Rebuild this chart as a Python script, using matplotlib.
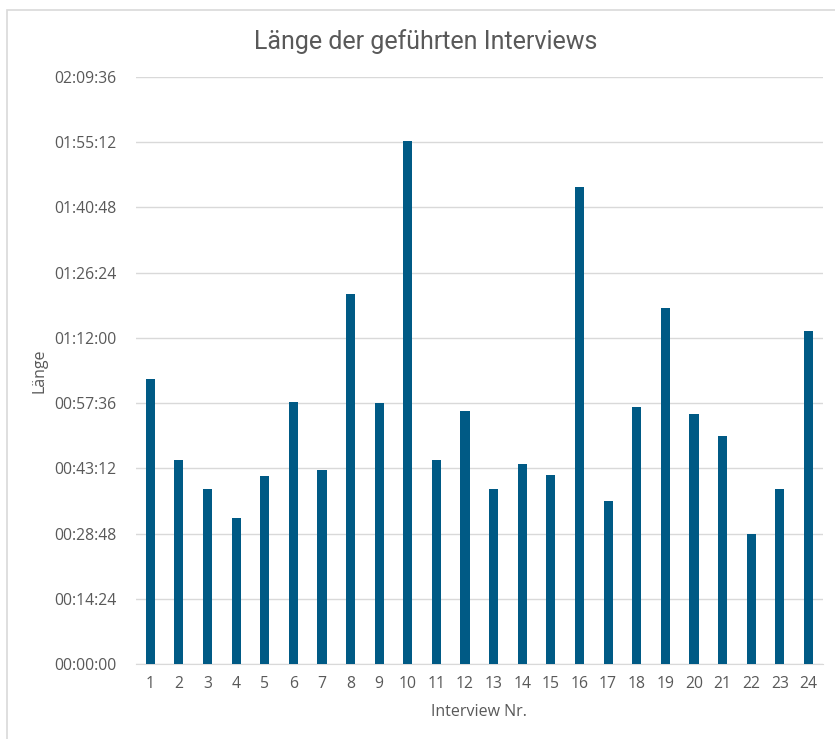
import matplotlib
matplotlib.use("Agg")
import matplotlib.pyplot as plt
from matplotlib.ticker import FuncFormatter, MultipleLocator
from matplotlib.patches import Rectangle

# ===== Daten =====
interview_nr = list(range(1, 25))
dauer = [
    "1:02:51", "0:45:07", "0:38:33", "0:32:16", "0:41:25", "0:57:49",
    "0:42:45", "1:21:44", "0:57:36", "1:55:28", "0:45:07", "0:55:58",
    "0:38:33", "0:44:14", "0:41:38", "1:45:17", "0:36:02", "0:56:51",
    "1:18:42", "0:55:18", "0:50:26", "0:28:43", "0:38:41", "1:13:32",
]
titel = "Länge der geführten Interviews"
x_label = "Interview Nr."
y_label = "Länge"


def in_sekunden(t):
    h, m, s = (int(v) for v in t.split(":"))
    return h * 3600 + m * 60 + s


def hms(x, pos=None):
    x = int(round(x))
    return f"{x // 3600:02d}:{(x % 3600) // 60:02d}:{x % 60:02d}"


sekunden = [in_sekunden(t) for t in dauer]

GRAU = "#595959"
BALKEN = "#005a85"
plt.rcParams["font.family"] = ["Open Sans", "DejaVu Sans"]

fig = plt.figure(figsize=(8.35, 7.39), dpi=100)

# heller Rahmen um das Diagramm
fig.patches.append(Rectangle((7 / 835, -0.05), 1.0, 1 - 10 / 739 + 0.05,
                             transform=fig.transFigure, fill=False,
                             edgecolor="#d9d9d9", linewidth=1.2))

ax = fig.add_axes([136 / 835, 75 / 739, 686.7 / 835, 587 / 739])
ax.bar(interview_nr, sekunden, width=0.32, color=BALKEN, zorder=3)

ax.set_xlim(0.5, 24.5)
ax.set_ylim(0, 7776)
ax.yaxis.set_major_locator(MultipleLocator(864))
ax.yaxis.set_major_formatter(FuncFormatter(hms))
ax.set_xticks(interview_nr)
ax.set_xticklabels([str(n) for n in interview_nr])

ax.grid(axis="y", color="#d9d9d9", linewidth=1, zorder=0)
for s in ["top", "right", "left"]:
    ax.spines[s].set_visible(False)
ax.spines["bottom"].set_color("#d9d9d9")
ax.tick_params(axis="both", length=0, labelsize=11.3, labelcolor=GRAU)
ax.tick_params(axis="x", pad=9)
ax.tick_params(axis="y", pad=14)

ax.set_xlabel(x_label, fontsize=11.5, color=GRAU, labelpad=8)
ax.set_ylabel(y_label, fontsize=11.5, color=GRAU, labelpad=5)

fig.text(426 / 835, 1 - 42 / 739, titel, ha="center", va="center",
         fontsize=18, color=GRAU,
         family=["Liberation Sans Narrow", "Roboto", "DejaVu Sans"])

fig.savefig("out.png", dpi=100, facecolor="white")
